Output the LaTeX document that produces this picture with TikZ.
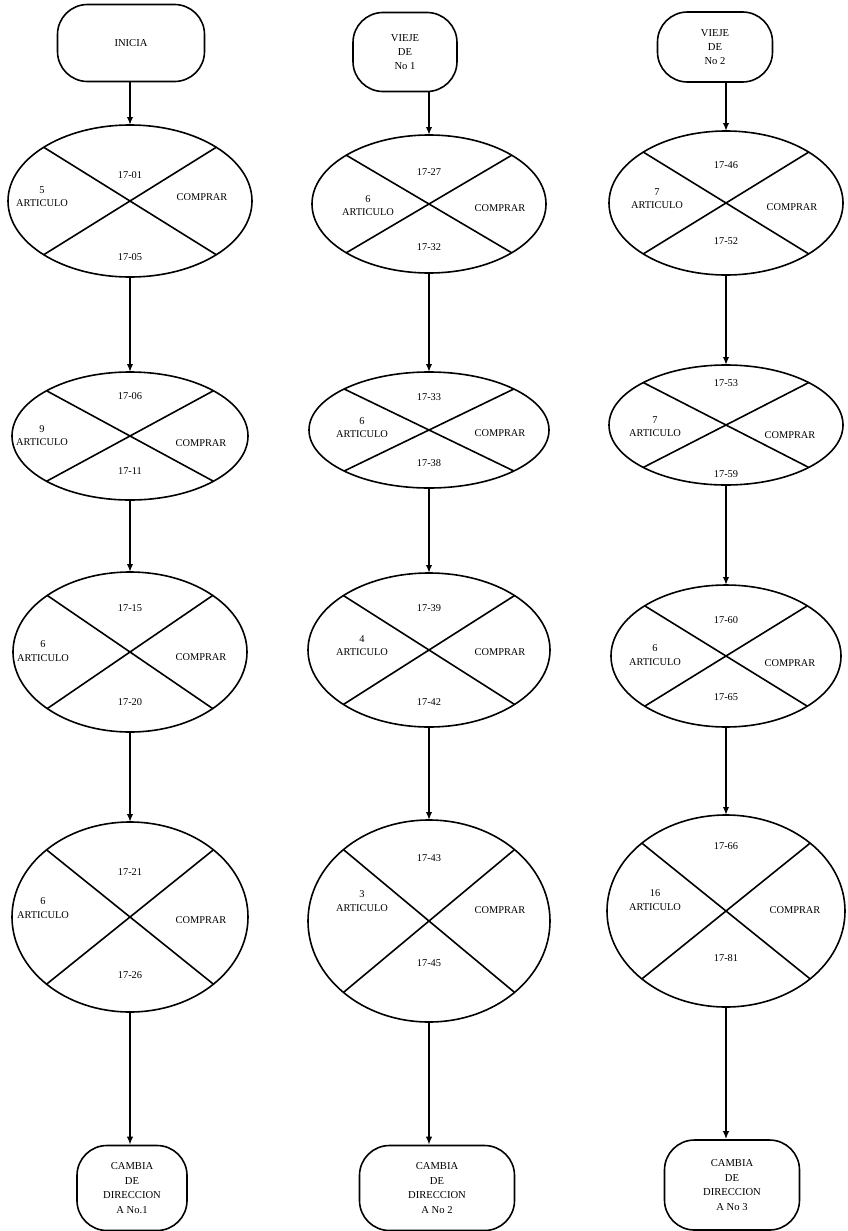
\documentclass[tikz,border=0pt]{standalone}
\usepackage{fontspec}
\setmainfont{Liberation Serif}
\usetikzlibrary{arrows.meta,calc,shapes.geometric}
\begin{document}
\begin{tikzpicture}[x=0.5pt,y=-0.5pt,
  ov/.style={draw, ellipse, line width=0.8pt, inner sep=0pt, outer sep=0pt},
  cr/.style={line width=0.8pt},
  lb/.style={font=\fontsize{5.2}{6.6}\selectfont, align=center, inner sep=0pt},
  tm/.style={draw, line width=0.8pt, rounded corners=15pt, align=center, inner sep=0pt,
             font=\fontsize{5.3}{7.2}\selectfont},
  ar/.style={line width=0.8pt, -{Latex[length=4pt,width=3.2pt]}}]
\useasboundingbox (0,0) rectangle (847,1231);

% ---------- column 1 ----------
\node[tm, minimum width=73.5pt, minimum height=38.5pt] (s1) at (131,43) {INICIA};
\node[ov, minimum width=122pt, minimum height=76pt] (a1) at (130,201) {};
\node[ov, minimum width=118pt, minimum height=64pt] (a2) at (130,436) {};
\node[ov, minimum width=117pt, minimum height=80pt] (a3) at (130,652) {};
\node[ov, minimum width=118pt, minimum height=95pt] (a4) at (130,917) {};
\node[tm, minimum width=55pt, minimum height=42.5pt] (f1) at (132,1188) {CAMBIA\\DE\\DIRECCION\\A No.1};

\foreach \n in {a1,a2,a3,a4}{
  \draw[cr] (\n.north west) -- (\n.south east) (\n.north east) -- (\n.south west);}

\node[lb] (a1t) at (130,175) {17-01};
\node[lb] (a1b) at (130,257) {17-05};
\node[lb] (a1l) at (42,197) {5\\ARTICULO};
\node[lb] (a1r) at (202,197) {COMPRAR};

\node[lb] (a2t) at (130,396) {17-06};
\node[lb] (a2b) at (130,471) {17-11};
\node[lb] (a2l) at (42,436) {9\\ARTICULO};
\node[lb] (a2r) at (201,443) {COMPRAR};

\node[lb] (a3t) at (130,608) {17-15};
\node[lb] (a3b) at (130,702) {17-20};
\node[lb] (a3l) at (43,651) {6\\ARTICULO};
\node[lb] (a3r) at (201,657) {COMPRAR};

\node[lb] (a4t) at (130,872) {17-21};
\node[lb] (a4b) at (130,975) {17-26};
\node[lb] (a4l) at (43,908) {6\\ARTICULO};
\node[lb] (a4r) at (201,920) {COMPRAR};

\draw[ar] (a1.north |- s1.south) -- (a1.north);
\draw[ar] (a1.south) -- (a2.north);
\draw[ar] (a2.south) -- (a3.north);
\draw[ar] (a3.south) -- (a4.north);
\draw[ar] (a4.south) -- (a4.south |- f1.north);

% ---------- column 2 ----------
\node[tm, minimum width=52pt, minimum height=39.5pt] (s2) at (405,52) {VIEJE\\DE\\No 1};
\node[ov, minimum width=117pt, minimum height=69pt] (b1) at (429,204) {};
\node[ov, minimum width=120pt, minimum height=58pt] (b2) at (429,430) {};
\node[ov, minimum width=121pt, minimum height=77pt] (b3) at (429,650) {};
\node[ov, minimum width=121pt, minimum height=101pt] (b4) at (429,921) {};
\node[tm, minimum width=77.5pt, minimum height=42.5pt] (f2) at (437,1188) {CAMBIA\\DE\\DIRECCION\\A No 2};

\foreach \n in {b1,b2,b3,b4}{
  \draw[cr] (\n.north west) -- (\n.south east) (\n.north east) -- (\n.south west);}

\node[lb] (b1t) at (429,172) {17-27};
\node[lb] (b1b) at (429,247) {17-32};
\node[lb] (b1l) at (368,206) {6\\ARTICULO};
\node[lb] (b1r) at (500,208) {COMPRAR};

\node[lb] (b2t) at (429,397) {17-33};
\node[lb] (b2b) at (429,463) {17-38};
\node[lb] (b2l) at (362,428) {6\\ARTICULO};
\node[lb] (b2r) at (500,433) {COMPRAR};

\node[lb] (b3t) at (429,608) {17-39};
\node[lb] (b3b) at (429,702) {17-42};
\node[lb] (b3l) at (362,646) {4\\ARTICULO};
\node[lb] (b3r) at (500,652) {COMPRAR};

\node[lb] (b4t) at (429,858) {17-43};
\node[lb] (b4b) at (429,963) {17-45};
\node[lb] (b4l) at (362,901) {3\\ARTICULO};
\node[lb] (b4r) at (500,910) {COMPRAR};

\draw[ar] (b1.north |- s2.south) -- (b1.north);
\draw[ar] (b1.south) -- (b2.north);
\draw[ar] (b2.south) -- (b3.north);
\draw[ar] (b3.south) -- (b4.north);
\draw[ar] (b4.south) -- (b4.south |- f2.north);

% ---------- column 3 ----------
\node[tm, minimum width=57.5pt, minimum height=35pt] (s3) at (715,47) {VIEJE\\DE\\No 2};
\node[ov, minimum width=117pt, minimum height=72pt] (c1) at (726,203) {};
\node[ov, minimum width=117pt, minimum height=60pt] (c2) at (726,425) {};
\node[ov, minimum width=115pt, minimum height=71pt] (c3) at (726,656) {};
\node[ov, minimum width=119pt, minimum height=96pt] (c4) at (726,911) {};
\node[tm, minimum width=67.5pt, minimum height=45pt] (f3) at (732,1185) {CAMBIA\\DE\\DIRECCION\\A No 3};

\foreach \n in {c1,c2,c3,c4}{
  \draw[cr] (\n.north west) -- (\n.south east) (\n.north east) -- (\n.south west);}

\node[lb] (c1t) at (726,165) {17-46};
\node[lb] (c1b) at (726,241) {17-52};
\node[lb] (c1l) at (657,199) {7\\ARTICULO};
\node[lb] (c1r) at (792,207) {COMPRAR};

\node[lb] (c2t) at (726,383) {17-53};
\node[lb] (c2b) at (726,474) {17-59};
\node[lb] (c2l) at (655,427) {7\\ARTICULO};
\node[lb] (c2r) at (790,435) {COMPRAR};

\node[lb] (c3t) at (726,620) {17-60};
\node[lb] (c3b) at (726,697) {17-65};
\node[lb] (c3l) at (655,655) {6\\ARTICULO};
\node[lb] (c3r) at (790,663) {COMPRAR};

\node[lb] (c4t) at (726,846) {17-66};
\node[lb] (c4b) at (726,958) {17-81};
\node[lb] (c4l) at (655,900) {16\\ARTICULO};
\node[lb] (c4r) at (795,910) {COMPRAR};

\draw[ar] (c1.north |- s3.south) -- (c1.north);
\draw[ar] (c1.south) -- (c2.north);
\draw[ar] (c2.south) -- (c3.north);
\draw[ar] (c3.south) -- (c4.north);
\draw[ar] (c4.south) -- (c4.south |- f3.north);
\end{tikzpicture}
\end{document}
